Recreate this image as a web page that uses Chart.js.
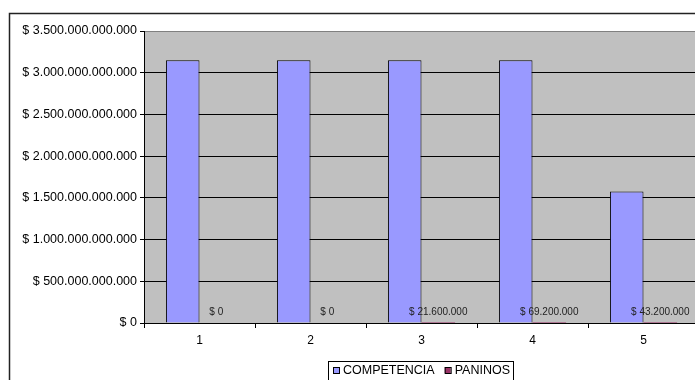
<!DOCTYPE html>
<html>
<head>
<meta charset="utf-8">
<script src="https://cdn.jsdelivr.net/npm/chart.js@4"></script>
<style>
  html, body { margin: 0; padding: 0; overflow: hidden; background: #fff; }
  #wrap { width: 720px; height: 380px; position: relative; }
</style>
</head>
<body>
<div id="wrap"><canvas id="chart"></canvas></div>
<script>
// ------------------- data -------------------
const categories = ["1", "2", "3", "4", "5"];
const competencia = [3150000000000, 3150000000000, 3150000000000, 3150000000000, 1575000000000];
const paninos = [0, 0, 21600000, 69200000, 43200000];
const seriesNames = ["COMPETENCIA", "PANINOS"];
const seriesColors = ["#9999FF", "#993366"];

const FONT = "'Liberation Sans', Arial, sans-serif";

function money(v) {
  return "$ " + String(Math.round(v)).replace(/\B(?=(\d{3})+(?!\d))/g, ".");
}

// plot background + outer frame
const backdrop = {
  id: "backdrop",
  beforeDraw(chart) {
    const c = chart.ctx, a = chart.chartArea;
    c.save();
    c.fillStyle = "#C0C0C0";
    c.fillRect(a.left, a.top, a.right - a.left, a.bottom - a.top);
    c.strokeStyle = "#222";
    c.lineWidth = 1.5;
    c.strokeRect(9.5, 13.5, 900, 900);
    c.restore();
  }
};

// value labels on the PANINOS bars + boxed legend
const extras = {
  id: "extras",
  afterDatasetsDraw(chart) {
    const c = chart.ctx;
    const meta = chart.getDatasetMeta(1);
    c.save();
    c.font = "10px " + FONT;
    c.fillStyle = "#222";
    c.textAlign = "center";
    c.textBaseline = "middle";
    meta.data.forEach((bar, i) => {
      c.fillText(money(paninos[i]), bar.x, chart.chartArea.bottom - 11);
    });
    c.restore();
  },
  afterDraw(chart) {
    const c = chart.ctx;
    c.save();
    c.strokeStyle = "#000";
    c.lineWidth = 1;
    c.strokeRect(328.5, 361.5, 185, 40);
    c.font = "12.5px " + FONT;
    c.textBaseline = "middle";
    let x = 333;
    seriesNames.forEach((name, i) => {
      c.fillStyle = seriesColors[i];
      c.fillRect(x, 367, 6, 6);
      c.strokeRect(x + 0.5, 367.5, 6, 6);
      c.fillStyle = "#000";
      c.fillText(name, x + 10, 371);
      x += 10 + c.measureText(name).width + 10;
    });
    c.restore();
  }
};

const ctx = document.getElementById("chart").getContext("2d");
new Chart(ctx, {
  type: "bar",
  data: {
    labels: categories,
    datasets: [
      {
        label: seriesNames[0],
        data: competencia,
        backgroundColor: seriesColors[0],
        borderColor: "#000",
        borderWidth: 1
      },
      {
        label: seriesNames[1],
        data: paninos,
        backgroundColor: seriesColors[1],
        borderWidth: 0
      }
    ]
  },
  options: {
    responsive: true,
    maintainAspectRatio: false,
    animation: false,
    datasets: { bar: { categoryPercentage: 0.605, barPercentage: 1 } },
    layout: { padding: { left: 0, top: 31, right: 21, bottom: 0 } },
    plugins: {
      legend: { display: false },
      tooltip: { enabled: false }
    },
    scales: {
      x: {
        offset: true,
        grid: { offset: true, drawOnChartArea: false, color: "#000", tickLength: 5 },
        border: { color: "#000", width: 1 },
        ticks: { color: "#000", font: { family: FONT, size: 12 }, padding: 5, maxRotation: 0 },
        afterFit(scale) { scale.height = 57; }
      },
      y: {
        min: 0,
        max: 3500000000000,
        grid: {
          color: (c) => (c.tick && c.tick.value === 3500000000000 ? "#808080" : "#000"),
          tickColor: "#000",
          tickLength: 4
        },
        border: { color: "#000", width: 1 },
        ticks: {
          stepSize: 500000000000,
          color: "#000",
          padding: 3,
          font: { family: FONT, size: 12.5 },
          callback: (v) => money(v)
        },
        afterFit(scale) { scale.width = 144; }
      }
    }
  },
  plugins: [backdrop, extras]
});
</script>
</body>
</html>
